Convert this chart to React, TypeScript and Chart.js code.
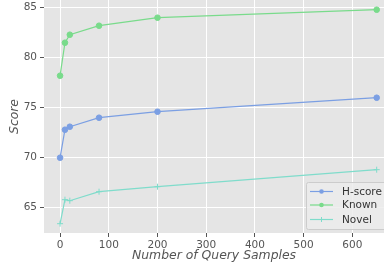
import React, { useEffect, useRef } from "react";
import { Chart, registerables } from "chart.js";
Chart.register(...registerables);

const querySamples = [0, 10, 20, 80, 200, 650];
const hScore = [70.0, 72.8, 73.1, 74.0, 74.6, 76.0];
const known = [78.2, 81.5, 82.3, 83.2, 84.0, 84.8];
const novel = [63.4, 65.8, 65.7, 66.6, 67.1, 68.8];
const xTicks = [0, 100, 200, 300, 400, 500, 600];
const yTicks = [65, 70, 75, 80, 85];
const seriesNames = ["H-score", "Known", "Novel"];
const seriesColors = ["#7b9fe3", "#79db8b", "#7fdccb"];
const seriesStyles = ["circle", "circle", "cross"];

const FONT = "'DejaVu Sans', sans-serif";

const bgPlugin = {
  id: "bg",
  beforeDraw(chart: any) {
    const { ctx, chartArea } = chart;
    ctx.save();
    ctx.fillStyle = "#e5e5e5";
    ctx.fillRect(chartArea.left, chartArea.top, chartArea.right - chartArea.left, chartArea.bottom - chartArea.top);
    ctx.restore();
  },
};

const legendPlugin = {
  id: "boxLegend",
  afterDatasetsDraw(chart: any) {
    const { ctx, chartArea } = chart;
    const x = 306.5;
    const y = 182.5;
    const w = chartArea.right - x + 4;
    const h = 47;
    ctx.save();
    ctx.fillStyle = "rgba(236,236,236,0.85)";
    ctx.strokeStyle = "#cccccc";
    ctx.lineWidth = 1;
    ctx.beginPath();
    (ctx as any).roundRect(x, y, w, h, 2);
    ctx.fill();
    ctx.stroke();
    const rows = [191.5, 205, 219.5];
    chart.data.datasets.forEach((ds: any, i: number) => {
      const ry = rows[i];
      ctx.strokeStyle = ds.borderColor;
      ctx.lineWidth = 1.2;
      ctx.beginPath();
      ctx.moveTo(310, ry);
      ctx.lineTo(333, ry);
      ctx.stroke();
      ctx.fillStyle = ds.borderColor;
      if (ds.pointStyle === "cross") {
        ctx.lineWidth = 1;
        ctx.beginPath();
        ctx.moveTo(321.5, ry - 2.5);
        ctx.lineTo(321.5, ry + 2.5);
        ctx.stroke();
      } else {
        ctx.beginPath();
        ctx.arc(321.5, ry, 2.3, 0, Math.PI * 2);
        ctx.fill();
      }
      ctx.fillStyle = "#333333";
      ctx.font = `10.5px ${FONT}`;
      ctx.textBaseline = "middle";
      ctx.textAlign = "left";
      ctx.fillText(ds.label, 342, ry + 0.5);
    });
    ctx.restore();
  },
};

const zeroPad = (s: any) => {
  s.paddingTop = 0;
  s.paddingBottom = 0;
  s.paddingLeft = 0;
  s.paddingRight = 0;
};

export default function App() {
  const ref = useRef<HTMLCanvasElement>(null);
  useEffect(() => {
    if (!ref.current) return;
    const series = [hScore, known, novel];
    const chart = new Chart(ref.current, {
      type: "line",
      data: {
        datasets: series.map((vals, i) => ({
          label: seriesNames[i],
          data: querySamples.map((x, j) => ({ x, y: vals[j] })),
          borderColor: seriesColors[i],
          backgroundColor: seriesColors[i],
          borderWidth: 1.2,
          pointStyle: seriesStyles[i] as any,
          pointRadius: seriesStyles[i] === "cross" ? 3 : 2.8,
          pointBorderWidth: 1,
          pointBorderColor: seriesColors[i],
          pointBackgroundColor: seriesColors[i],
          fill: false,
          tension: 0,
          clip: false as any,
        })),
      },
      options: {
        responsive: false,
        animation: false,
        devicePixelRatio: 1,
        layout: { padding: 0, autoPadding: false },
        plugins: { legend: { display: false }, tooltip: { enabled: false } },
        scales: {
          x: {
            type: "linear",
            min: -33,
            max: 665,
            afterBuildTicks: (s: any) => {
              s.ticks = xTicks.map((v) => ({ value: v }));
            },
            afterFit: (s: any) => {
              s.height = 38;
              zeroPad(s);
            },
            grid: { color: "#ffffff", lineWidth: 1, tickColor: "#555555", tickLength: 4, drawTicks: true },
            border: { display: false },
            ticks: { color: "#555555", font: { family: FONT, size: 10.5 }, padding: 2, maxRotation: 0 },
            title: {
              display: true,
              text: "Number of Query Samples",
              color: "#555555",
              font: { family: FONT, size: 12.4, style: "italic" },
              padding: { top: 0, bottom: 7.5 },
            },
          },
          y: {
            type: "linear",
            min: 62.47,
            max: 85.77,
            afterBuildTicks: (s: any) => {
              s.ticks = yTicks.map((v) => ({ value: v }));
            },
            afterFit: (s: any) => {
              s.width = 44;
              zeroPad(s);
            },
            grid: { color: "#ffffff", lineWidth: 1, tickColor: "#555555", tickLength: 4, drawTicks: true },
            border: { display: false },
            ticks: { color: "#555555", font: { family: FONT, size: 10.5 }, padding: 3 },
            title: {
              display: true,
              text: "Score",
              color: "#555555",
              font: { family: FONT, size: 12.4, style: "italic" },
              padding: { top: 7.5, bottom: 0 },
            },
          },
        },
      },
      plugins: [bgPlugin, legendPlugin],
    });
    return () => chart.destroy();
  }, []);
  return (
    <div style={{ position: "absolute", left: 0, top: 0, width: 384, height: 271 }}>
      <canvas ref={ref} width={384} height={271} />
    </div>
  );
}
